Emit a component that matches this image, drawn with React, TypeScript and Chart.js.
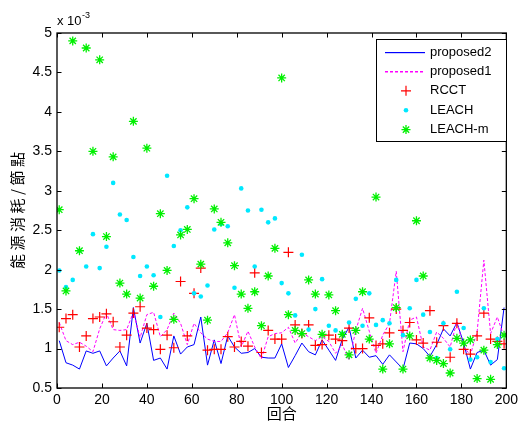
import { useEffect, useRef } from 'react';
import { Chart, registerables } from 'chart.js';

Chart.register(...registerables);

const LATIN = '"Liberation Sans", Arial, Helvetica, sans-serif';
const CJK = '"Noto Sans CJK TC", "Noto Sans CJK SC", sans-serif';

// Round numbers at which energy was sampled
const rounds = [
  1, 4, 7, 10, 13, 16, 19, 22, 25, 28, 31, 34, 37, 40, 43, 46, 49, 52, 55, 58,
  61, 64, 67, 70, 73, 76, 79, 82, 85, 88, 91, 94, 97, 100, 103, 106, 109, 112, 115, 118,
  121, 124, 127, 130, 133, 136, 139, 142, 145, 148, 151, 154, 157, 160, 163, 166, 169, 172, 175, 178,
  181, 184, 187, 190, 193, 196, 199,
];

// Energy per node, in units of 1e-3
const proposed2 = [
  1.10, 0.82, 0.79, 0.74, 0.97, 0.94, 0.97, 0.78, 0.88, 0.97,
  0.78, 1.52, 1.07, 1.32, 0.85, 0.88, 0.74, 1.16, 0.93, 1.02,
  1.05, 1.40, 0.79, 1.11, 0.81, 1.16, 1.02, 0.94, 0.95, 1.00,
  0.89, 0.88, 0.88, 1.06, 0.76, 0.91, 1.07, 0.96, 0.92, 1.11,
  0.98, 0.85, 1.12, 1.27, 0.88, 0.98, 0.89, 0.91, 0.80, 0.92,
  0.83, 0.74, 1.07, 1.06, 1.00, 0.90, 1.05, 1.25, 1.16, 1.33,
  1.07, 0.74, 0.95, 0.98, 0.79, 0.86, 1.52,
];

const proposed1 = [
  1.33, 1.10, 1.05, 1.08, 1.03, 0.96, 1.25, 1.45, 1.24, 1.23,
  1.24, 1.46, 1.14, 1.43, 1.46, 1.15, 1.24, 1.45, 1.32, 1.05,
  1.32, 1.20, 1.12, 1.09, 1.09, 1.20, 1.43, 1.02, 1.22, 1.02,
  0.87, 1.15, 1.19, 1.20, 1.27, 1.07, 1.20, 1.15, 1.10, 1.15,
  1.09, 0.94, 1.05, 0.85, 1.23, 1.51, 1.22, 0.94, 1.17, 1.32,
  1.98, 0.96, 1.36, 1.40, 1.02, 0.98, 1.21, 1.13, 1.02, 1.34,
  1.02, 0.92, 1.21, 2.12, 1.19, 1.40, 1.15,
];

const rcct = [
  1.27, 1.38, 1.43, 1.02, 1.16, 1.38, 1.40, 1.44, 1.34, 1.02,
  1.17, 1.45, 1.53, 1.26, 1.24, 0.99, 1.17, 1.01, 1.85, 1.16,
  1.70, 2.02, 0.98, 0.99, 0.99, 1.15, 1.02, 1.09, 1.03, 1.96,
  0.95, 1.23, 1.12, 1.12, 2.22, 1.30, 1.19, 1.30, 1.04, 1.05,
  1.17, 1.12, 1.10, 1.26, 1.00, 1.00, 1.39, 1.04, 1.06, 1.20,
  1.50, 1.23, 1.33, 1.11, 1.07, 1.48, 1.08, 1.29, 0.89, 1.32,
  0.99, 0.93, 1.16, 1.45, 1.12, 1.09, 1.06,
];

const leach = [
  1.99, 1.78, 1.87, 2.24, 2.04, 2.45, 2.02, 2.29, 3.10, 2.70,
  2.63, 2.16, 1.92, 2.04, 1.93, 1.40, 3.19, 2.30, 2.50, 2.79,
  1.70, 1.66, 1.80, 2.51, 2.58, 2.55, 1.77, 3.03, 2.75, 2.04,
  2.76, 2.60, 2.65, 1.83, 1.70, 1.42, 2.19, 1.24, 1.50, 1.88,
  1.29, 1.23, 1.19, 1.33, 1.63, 1.29, 1.70, 1.30, 1.36, 1.32,
  1.87, 1.17, 1.51, 1.87, 1.43, 1.21, 0.88, 1.32, 0.99, 1.72,
  1.26, 0.86, 0.89, 1.51, 0.83, 1.12, 0.75,
];

const leachM = [
  2.76, 1.73, 4.90, 2.24, 4.81, 3.50, 4.66, 2.42, 3.43, 1.83,
  1.69, 3.88, 1.64, 3.54, 1.79, 2.71, 1.99, 1.37, 2.44, 2.51,
  2.90, 2.07, 1.36, 2.77, 2.60, 2.34, 2.05, 1.69, 1.51, 1.72,
  1.29, 1.92, 2.27, 4.43, 1.43, 1.23, 1.19, 1.87, 1.69, 1.18,
  1.68, 1.48, 1.18, 0.92, 1.23, 1.72, 1.12, 2.92, 0.74, 1.06,
  1.52, 0.74, 1.16, 2.62, 1.92, 0.88, 0.85, 0.81, 0.69, 1.13,
  1.07, 1.11, 0.62, 0.98, 0.61, 1.05, 1.17,
];

const xTitle = '回合';
const yTitle = '能源消耗/節點';

const toPoints = (ys: number[]) => rounds.map((x, i) => ({ x, y: ys[i] }));

function drawMarker(ctx: CanvasRenderingContext2D, style: string, x: number, y: number, r: number, color: string, lw: number) {
  ctx.save();
  ctx.strokeStyle = color;
  ctx.fillStyle = color;
  ctx.lineWidth = lw;
  ctx.beginPath();
  if (style === 'circle') {
    ctx.arc(x, y, r, 0, Math.PI * 2);
    ctx.fill();
  } else {
    ctx.moveTo(x - r, y); ctx.lineTo(x + r, y);
    ctx.moveTo(x, y - r); ctx.lineTo(x, y + r);
    if (style === 'star') {
      const d = r * Math.SQRT1_2;
      ctx.moveTo(x - d, y - d); ctx.lineTo(x + d, y + d);
      ctx.moveTo(x - d, y + d); ctx.lineTo(x + d, y - d);
    }
    ctx.stroke();
  }
  ctx.restore();
}

// Box frame with inward ticks, y title, exponent note and boxed legend
const boxedAxesPlugin = {
  id: 'boxedAxes',
  beforeDraw(chart: any) {
    const { ctx, width, height } = chart;
    ctx.save();
    ctx.fillStyle = '#ffffff';
    ctx.fillRect(0, 0, width, height);
    ctx.restore();
  },
  afterDraw(chart: any) {
    const { ctx, chartArea: a, scales } = chart;
    const sx = scales.x;
    const sy = scales.y;
    const len = 4.5;
    ctx.save();
    ctx.strokeStyle = '#000';
    ctx.lineWidth = 1;
    ctx.beginPath();
    sx.ticks.forEach((t: any) => {
      const px = Math.round(sx.getPixelForValue(t.value)) + 0.5;
      ctx.moveTo(px, a.bottom); ctx.lineTo(px, a.bottom - len);
      ctx.moveTo(px, a.top); ctx.lineTo(px, a.top + len);
    });
    sy.ticks.forEach((t: any) => {
      const py = Math.round(sy.getPixelForValue(t.value)) + 0.5;
      ctx.moveTo(a.left, py); ctx.lineTo(a.left + len, py);
      ctx.moveTo(a.right, py); ctx.lineTo(a.right - len, py);
    });
    ctx.stroke();
    ctx.lineWidth = 1.3;
    ctx.strokeRect(a.left, a.top, a.right - a.left, a.bottom - a.top);

    // y axis title, rotated, with a little extra spacing between glyphs
    ctx.save();
    ctx.translate(17, (a.top + a.bottom) / 2);
    ctx.rotate(-Math.PI / 2);
    ctx.font = `15px ${CJK}`;
    ctx.fillStyle = '#000';
    ctx.textBaseline = 'middle';
    ctx.textAlign = 'left';
    const gap = 3.5;
    const chars = Array.from(yTitle);
    const widths = chars.map((c) => ctx.measureText(c).width);
    const total = widths.reduce((s, w) => s + w, 0) + gap * (chars.length - 1);
    let cx = -total / 2;
    chars.forEach((c, i) => {
      ctx.fillText(c, cx, 0);
      cx += widths[i] + gap;
    });
    ctx.restore();

    // exponent of the y axis
    ctx.fillStyle = '#000';
    ctx.textBaseline = 'alphabetic';
    ctx.textAlign = 'left';
    ctx.font = `13px ${LATIN}`;
    ctx.fillText('x 10', a.left, a.top - 8);
    const w = ctx.measureText('x 10').width;
    ctx.font = `9px ${LATIN}`;
    ctx.fillText('-3', a.left + w + 0.5, a.top - 15);

    // legend
    const bx = 376.5, by = 39.5, bw = 130, bh = 102;
    ctx.fillStyle = '#fff';
    ctx.fillRect(bx, by, bw, bh);
    ctx.lineWidth = 1;
    ctx.strokeStyle = '#000';
    ctx.strokeRect(bx, by, bw, bh);
    ctx.font = `13px ${LATIN}`;
    ctx.textBaseline = 'middle';
    chart.data.datasets.forEach((ds: any, i: number) => {
      const ry = 52 + i * 19.4;
      const row = Math.round(ry);
      if (ds.showLine) {
        ctx.fillStyle = ds.legendColor;
        if (ds.borderDash) {
          for (let x = 385; x < 425; x += 5) ctx.fillRect(x, row, 3, 1.5);
        } else {
          ctx.fillRect(385, row, 40, 1.2);
        }
      } else {
        drawMarker(ctx, ds.pointStyle, 406, ry, ds.pointRadius, ds.legendColor, ds.pointBorderWidth);
      }
      ctx.fillStyle = '#000';
      ctx.fillText(ds.label, 430, ry);
    });
    ctx.restore();
  },
};

export default function App() {
  const ref = useRef<HTMLCanvasElement | null>(null);

  useEffect(() => {
    if (!ref.current) return;
    const chart = new Chart(ref.current, {
      type: 'scatter',
      data: {
        datasets: [
          {
            label: 'proposed2', data: toPoints(proposed2), showLine: true, legendColor: '#0000ff',
            borderColor: '#0000ff', borderWidth: 1, pointRadius: 0, order: 5,
          },
          {
            label: 'proposed1', data: toPoints(proposed1), showLine: true, legendColor: '#ff00ff',
            borderColor: '#ff00ff', borderWidth: 1, borderDash: [3, 2], pointRadius: 0, order: 4,
          },
          {
            label: 'RCCT', data: toPoints(rcct), showLine: false, legendColor: '#ff0000',
            pointStyle: 'cross', pointRadius: 5, pointBorderWidth: 1.2,
            pointBorderColor: '#ff0000', pointBackgroundColor: '#ff0000', order: 3,
          },
          {
            label: 'LEACH', data: toPoints(leach), showLine: false, legendColor: '#00e8ff',
            pointStyle: 'circle', pointRadius: 2.3, pointBorderWidth: 0,
            pointBorderColor: '#00e8ff', pointBackgroundColor: '#00e8ff', order: 2,
          },
          {
            label: 'LEACH-m', data: toPoints(leachM), showLine: false, legendColor: '#00f000',
            pointStyle: 'star', pointRadius: 4.5, pointBorderWidth: 1.3,
            pointBorderColor: '#00f000', pointBackgroundColor: '#00f000', order: 1,
          },
        ] as any,
      },
      options: {
        animation: false,
        responsive: false,
        devicePixelRatio: 1,
        events: [],
        layout: { padding: { left: 0, right: 12, top: 33, bottom: 0 } },
        plugins: { legend: { display: false }, tooltip: { enabled: false } },
        scales: {
          x: {
            type: 'linear', min: 0, max: 200,
            grid: { display: false, drawTicks: false },
            border: { display: false },
            ticks: { stepSize: 20, padding: 4, color: '#000', autoSkip: false, maxRotation: 0, font: { family: LATIN, size: 14 } },
            title: { display: true, text: xTitle, color: '#000', font: { family: CJK, size: 15 }, padding: { top: 0, bottom: 1 } },
            afterFit: (s: any) => { s.height = 35; },
          },
          y: {
            type: 'linear', min: 0.5, max: 5,
            grid: { display: false, drawTicks: false },
            border: { display: false },
            ticks: {
              stepSize: 0.5, padding: 5, color: '#000', font: { family: LATIN, size: 14 },
              callback: (v: any) => String(Math.round(Number(v) * 10) / 10),
            },
            title: { display: false },
            afterFit: (s: any) => { s.width = 57; },
          },
        },
      },
      plugins: [boxedAxesPlugin],
    });
    return () => chart.destroy();
  }, []);

  return (
    <div style={{ position: 'fixed', left: 0, top: 0, width: 522, height: 423, background: '#fff' }}>
      <canvas ref={ref} width={522} height={423} style={{ display: 'block' }} />
    </div>
  );
}
